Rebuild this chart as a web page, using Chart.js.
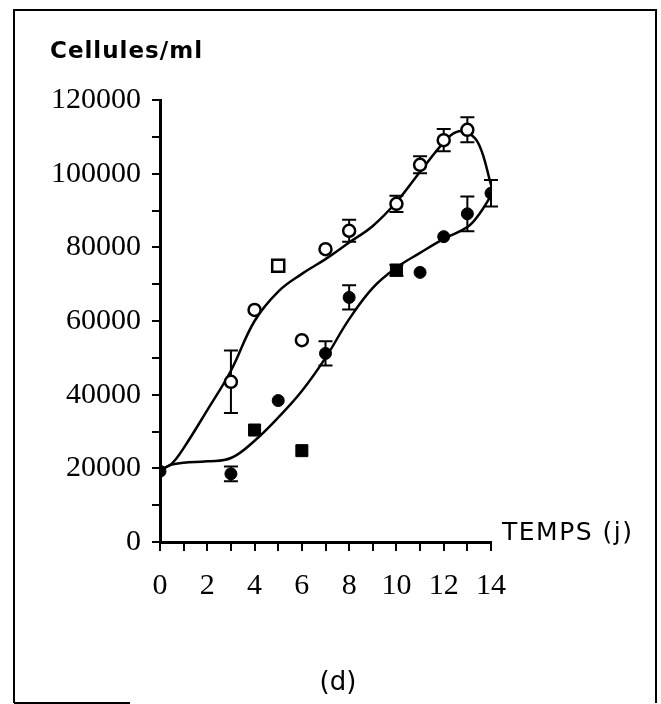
<!DOCTYPE html>
<html>
<head>
<meta charset="utf-8">
<title>Cellules/ml</title>
<script src="https://cdn.jsdelivr.net/npm/chart.js@4.4.1/dist/chart.umd.min.js"></script>
<style>
  html, body { margin: 0; padding: 0; background: #fff; }
  canvas { display: block; }
</style>
</head>
<body>
<canvas id="chart" width="661" height="704"></canvas>
<script>
const openDays = [3, 4, 5, 6, 7, 8, 10, 11, 12, 13];
const openVals = [43500, 63000, 75000, 54800, 79500, 84500, 91800, 102400, 109100, 111900];
const openErr  = [8500, 0, 0, 0, 0, 3000, 2200, 2300, 3000, 3400];
const openStyle = ['circle', 'circle', 'rect', 'circle', 'circle', 'circle', 'circle', 'circle', 'circle', 'circle'];

const filledDays = [0, 3, 4, 5, 6, 7, 8, 10, 11, 12, 13, 14];
const filledVals = [19200, 18500, 30400, 38400, 24800, 51200, 66400, 73800, 73200, 82900, 89100, 94700];
const filledErr  = [0, 2000, 0, 0, 0, 3300, 3300, 1500, 0, 0, 4700, 3600];
const filledStyle = ['circle', 'circle', 'rect', 'circle', 'rect', 'circle', 'circle', 'rect', 'circle', 'circle', 'circle', 'circle'];

// courbes lissées
const upperDays = [0, 0.5, 1, 2, 3, 4, 5, 6, 7, 8, 9, 10, 11, 12, 12.5, 13, 13.5, 14];
const upperVals = [19500, 21300, 25500, 35800, 46500, 60000, 68000, 72800, 76800, 81300, 85800, 92300, 100500, 108500, 111200, 111200, 107800, 97000];
const lowerDays = [0, 0.5, 1, 2, 3, 4, 5, 6, 7, 8, 9, 10, 11, 12, 13, 13.5, 14];
const lowerVals = [19500, 21000, 21500, 21900, 22800, 27500, 33800, 41000, 50000, 60500, 69000, 74500, 78500, 82300, 85500, 89000, 94000];

const xTicks = [0, 2, 4, 6, 8, 10, 12, 14];
const yTicks = [0, 20000, 40000, 60000, 80000, 100000, 120000];

const toXY = (xs, ys) => xs.map((x, i) => ({ x: x, y: ys[i] }));
const sizeOf = (styles) => styles.map(s => s === 'rect' ? 8.5 : 6);

// fond blanc + cadre + textes
const decor = {
  id: 'decor',
  beforeDraw(chart) {
    const ctx = chart.ctx;
    ctx.save();
    ctx.fillStyle = '#fff';
    ctx.fillRect(0, 0, chart.width, chart.height);
    ctx.restore();
  },
  afterDraw(chart) {
    const ctx = chart.ctx;
    ctx.save();
    ctx.strokeStyle = '#000';
    ctx.lineWidth = 2;
    ctx.beginPath();
    ctx.moveTo(14, 703); ctx.lineTo(14, 10); ctx.lineTo(656, 10); ctx.lineTo(656, 703);
    ctx.moveTo(14, 703); ctx.lineTo(130, 703);
    ctx.stroke();

    ctx.fillStyle = '#000';
    ctx.textBaseline = 'alphabetic';
    ctx.textAlign = 'left';
    ctx.font = 'bold 23px "DejaVu Sans"';
    ctx.letterSpacing = '1px';
    ctx.fillText('Cellules/ml', 50, 58);

    ctx.font = '25px "DejaVu Sans"';
    ctx.letterSpacing = '1.5px';
    ctx.fillText('TEMPS (j)', 502, 540);

    ctx.font = '26px "DejaVu Sans"';
    ctx.letterSpacing = '0px';
    ctx.textAlign = 'center';
    ctx.fillText('(d)', 338, 690);
    ctx.restore();
  }
};

// barres d'erreur
const errorBars = {
  id: 'errorBars',
  beforeDatasetsDraw(chart) {
    const ctx = chart.ctx;
    const xs = chart.scales.x, ys = chart.scales.y;
    const draw = (days, vals, errs) => {
      days.forEach((d, i) => {
        if (!errs[i]) return;
        const px = xs.getPixelForValue(d);
        const top = ys.getPixelForValue(vals[i] + errs[i]);
        const bot = ys.getPixelForValue(vals[i] - errs[i]);
        ctx.beginPath();
        ctx.moveTo(px, top); ctx.lineTo(px, bot);
        ctx.moveTo(px - 7, top); ctx.lineTo(px + 7, top);
        ctx.moveTo(px - 7, bot); ctx.lineTo(px + 7, bot);
        ctx.stroke();
      });
    };
    ctx.save();
    ctx.strokeStyle = '#000';
    ctx.lineWidth = 2;
    draw(openDays, openVals, openErr);
    draw(filledDays, filledVals, filledErr);
    ctx.restore();
  }
};

const tickFont = { family: '"Liberation Serif", serif', size: 30 };

new Chart(document.getElementById('chart'), {
  type: 'scatter',
  data: {
    datasets: [
      {
        data: toXY(openDays, openVals),
        pointStyle: openStyle,
        pointRadius: sizeOf(openStyle),
        backgroundColor: '#fff',
        borderColor: '#000',
        borderWidth: 2.5
      },
      {
        data: toXY(filledDays, filledVals),
        pointStyle: filledStyle,
        pointRadius: sizeOf(filledStyle),
        backgroundColor: '#000',
        borderColor: '#000',
        borderWidth: 1
      },
      {
        type: 'line',
        data: toXY(upperDays, upperVals),
        showLine: true,
        pointRadius: 0,
        borderColor: '#000',
        borderWidth: 2.5,
        tension: 0.4,
        fill: false
      },
      {
        type: 'line',
        data: toXY(lowerDays, lowerVals),
        showLine: true,
        pointRadius: 0,
        borderColor: '#000',
        borderWidth: 2.5,
        tension: 0.4,
        fill: false
      }
    ]
  },
  options: {
    responsive: false,
    animation: false,
    events: [],
    layout: { padding: { left: 0, top: 100, right: 170, bottom: 0 } },
    plugins: { legend: { display: false }, tooltip: { enabled: false } },
    scales: {
      x: {
        type: 'linear',
        min: 0,
        max: 14,
        afterFit: (s) => { s.height = 162; },
        ticks: {
          stepSize: 1,
          autoSkip: false,
          maxRotation: 0,
          color: '#000',
          font: tickFont,
          padding: 17,
          callback: (v) => xTicks.includes(v) ? String(v) : ''
        },
        grid: { drawOnChartArea: false, drawTicks: true, tickLength: 9, color: '#000', lineWidth: 2 },
        border: { display: true, color: '#000', width: 3 }
      },
      y: {
        min: 0,
        max: 120000,
        afterFit: (s) => { s.width = 160; },
        ticks: {
          stepSize: 10000,
          autoSkip: false,
          color: '#000',
          font: tickFont,
          padding: 11,
          callback: (v) => yTicks.includes(v) ? String(v) : ''
        },
        grid: { drawOnChartArea: false, drawTicks: true, tickLength: 8, color: '#000', lineWidth: 2 },
        border: { display: true, color: '#000', width: 3 }
      }
    }
  },
  plugins: [decor, errorBars]
});
</script>
</body>
</html>
